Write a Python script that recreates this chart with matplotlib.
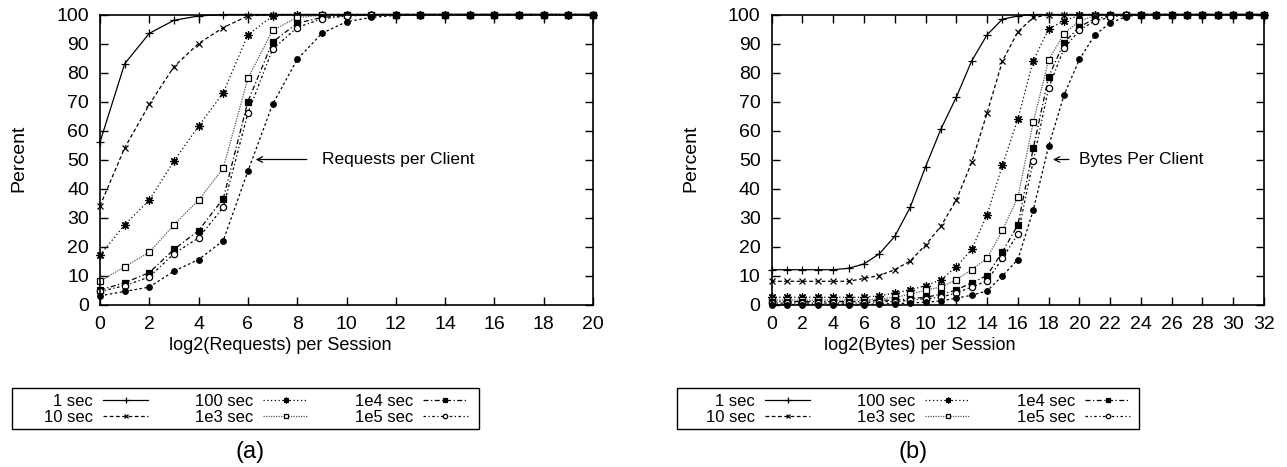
import matplotlib
matplotlib.use("Agg")
import matplotlib.pyplot as plt
from matplotlib.patches import Rectangle

plt.rcParams['font.family'] = ['Liberation Sans', 'DejaVu Sans']

# --- data ---
x_req = list(range(21))
x_bytes = list(range(33))

labels = ['1 sec', '10 sec', '100 sec', '1e3 sec', '1e4 sec', '1e5 sec', None]

req_1s = [56, 83, 93.5, 98, 99.5, 100, 100, 100, 100, 100, 100, 100, 100, 100, 100, 100, 100, 100, 100, 100, 100]
req_10s = [34, 54, 69, 82, 90, 95.5, 99.5, 100, 100, 100, 100, 100, 100, 100, 100, 100, 100, 100, 100, 100, 100]
req_100s = [17, 27.5, 36, 49.5, 61.5, 73, 93, 99.5, 100, 100, 100, 100, 100, 100, 100, 100, 100, 100, 100, 100, 100]
req_1e3 = [8, 13, 18, 27.5, 36, 47, 78, 94.5, 99, 99.7, 100, 100, 100, 100, 100, 100, 100, 100, 100, 100, 100]
req_1e4 = [5, 7.5, 11, 19, 25.5, 36.5, 70, 90.5, 97, 99, 99.7, 100, 100, 100, 100, 100, 100, 100, 100, 100, 100]
req_1e5 = [4.5, 6.5, 9.5, 17.5, 23, 33.5, 66, 88, 95.5, 98.5, 99.5, 99.8, 100, 100, 100, 100, 100, 100, 100, 100, 100]
req_1e6 = [3, 4.5, 6, 11.5, 15.5, 22, 46, 69, 84.5, 93.5, 97.5, 99, 99.7, 100, 100, 100, 100, 100, 100, 100, 100]

b_1s = [12, 12, 12, 12, 12, 12.5, 14, 17.5, 23.5, 33.5, 47.5, 60.5, 71.5, 84, 93, 98.4, 99.5,
        100, 100, 100, 100, 100, 100, 100, 100, 100, 100, 100, 100, 100, 100, 100, 100]
b_10s = [8, 8, 8, 8, 8, 8, 9, 10, 12, 15, 20.5, 27, 36, 49, 66, 84, 94, 99, 99.8,
         100, 100, 100, 100, 100, 100, 100, 100, 100, 100, 100, 100, 100, 100]
b_100s = [2.5, 2.5, 2.5, 2.5, 2.5, 2.5, 2.5, 3, 4, 5, 6.5, 8.5, 13, 19, 31, 48, 64, 84, 95, 97.8, 99.7,
          100, 100, 100, 100, 100, 100, 100, 100, 100, 100, 100, 100]
b_1e3 = [1.5, 1.5, 1.5, 1.5, 1.5, 1.5, 1.5, 2, 2.5, 3.5, 5, 6, 8.5, 12, 16, 25.6, 37, 62.8, 84.3, 93.4, 97.8, 99.5,
         100, 100, 100, 100, 100, 100, 100, 100, 100, 100, 100]
b_1e4 = [1, 1, 1, 1, 1, 1, 1, 1.5, 1.5, 2, 2.5, 3.5, 5, 7.5, 10, 18.2, 27.4, 53.8, 78.5, 90.3, 95.7, 98.6, 99.4,
         100, 100, 100, 100, 100, 100, 100, 100, 100, 100]
b_1e5 = [0.5, 0.5, 0.5, 0.5, 0.5, 0.5, 0.5, 1, 1, 1.5, 2, 2.5, 4, 6, 8.2, 15.9, 24.3, 49.4, 74.7, 88.3, 94.6, 97.8, 99, 99.8,
         100, 100, 100, 100, 100, 100, 100, 100, 100]
b_1e6 = [0, 0, 0, 0, 0, 0, 0, 0.2, 0.3, 0.5, 0.8, 1.2, 2.2, 3.2, 4.7, 9.9, 15.5, 32.5, 54.6, 72.2, 84.5, 92.9, 97.1, 99.2,
         100, 100, 100, 100, 100, 100, 100, 100, 100]

# (marker, size, dash pattern, facecolor, line colour)
styles = [
    ('+', 6, '-', 'black', 'black'),
    ('x', 5, (0, (3, 2)), 'black', 'black'),
    ((8, 2, 0), 6, (0, (1, 2)), 'black', 'black'),
    ('s', 4.5, (0, (1, 1)), 'white', '#555555'),
    ('s', 4.5, (0, (4, 2, 1, 2)), 'black', 'black'),
    ('o', 4.5, (0, (2, 2, 1, 2)), 'white', 'black'),
    ('o', 4, (0, (2, 2)), 'black', 'black'),
]

fig = plt.figure(figsize=(12.87, 4.67), dpi=100)
W, H = 1287, 467


def px_axes(x0, x1, y_top, y_bot):
    return fig.add_axes([x0 / W, 1 - y_bot / H, (x1 - x0) / W, (y_bot - y_top) / H])


def draw(ax, x, series, xmax):
    handles = []
    for ys, (mk, ms, ls, fc, col), lab in zip(series, styles, labels):
        ln, = ax.plot(x, ys, linestyle=ls, color=col, linewidth=0.9, marker=mk,
                      markersize=ms, markerfacecolor=fc, markeredgecolor='black',
                      markeredgewidth=0.9, clip_on=False, label=lab)
        if lab:
            handles.append(ln)
    ax.set_xlim(0, xmax)
    ax.set_ylim(0, 100)
    ax.set_xticks(range(0, xmax + 1, 2))
    ax.set_yticks(range(0, 101, 10))
    ax.tick_params(direction='in', length=6, width=1, top=True, right=True, labelsize=14)
    ax.tick_params(axis='x', pad=8)
    ax.tick_params(axis='y', pad=8)
    for s in ax.spines.values():
        s.set_linewidth(1.2)
    return handles


ax1 = px_axes(100, 593, 14.5, 304.5)
h1 = draw(ax1, x_req, [req_1s, req_10s, req_100s, req_1e3, req_1e4, req_1e5, req_1e6], 20)
ax1.annotate('', xy=(6.2, 50), xytext=(8.5, 50),
             arrowprops=dict(arrowstyle='->', color='black', lw=0.9))
ax1.text(9.0, 50, 'Requests per Client', fontsize=12.5, va='center', ha='left')

ax2 = px_axes(771.7, 1264, 14.5, 304.5)
h2 = draw(ax2, x_bytes, [b_1s, b_10s, b_100s, b_1e3, b_1e4, b_1e5, b_1e6], 32)
ax2.annotate('', xy=(18.1, 50), xytext=(19.5, 50),
             arrowprops=dict(arrowstyle='->', color='black', lw=0.9))
ax2.text(20.0, 50, 'Bytes Per Client', fontsize=12.5, va='center', ha='left')

fig.text(19 / W, 1 - 158 / H, 'Percent', rotation=90, fontsize=14, ha='center', va='center')
fig.text(691 / W, 1 - 158 / H, 'Percent', rotation=90, fontsize=14, ha='center', va='center')
fig.text(280 / W, 1 - 345 / H, 'log2(Requests) per Session', fontsize=13, ha='center', va='center')
fig.text(920 / W, 1 - 345 / H, 'log2(Bytes) per Session', fontsize=13, ha='center', va='center')
fig.text(250 / W, 1 - 452 / H, '(a)', fontsize=17, ha='center', va='center')
fig.text(913 / W, 1 - 452 / H, '(b)', fontsize=17, ha='center', va='center')


def add_legend(handles, right, box_x0, box_x1):
    fig.legend(handles, labels[:6], ncol=3, markerfirst=False, frameon=False,
               loc='center right', bbox_to_anchor=(right / W, 1 - 409.5 / H),
               borderpad=0, borderaxespad=0, fontsize=12, handlelength=2.7,
               handletextpad=0.6, columnspacing=2.8, labelspacing=0.05,
               markerscale=0.7)
    fig.patches.append(Rectangle((box_x0 / W, 1 - 429 / H), (box_x1 - box_x0) / W, 41 / H,
                                 transform=fig.transFigure, fill=False,
                                 edgecolor='black', linewidth=1.0))


add_legend(h1, 468, 12, 479)
add_legend(h2, 1130, 677, 1139)

fig.savefig('out.png', dpi=100)
